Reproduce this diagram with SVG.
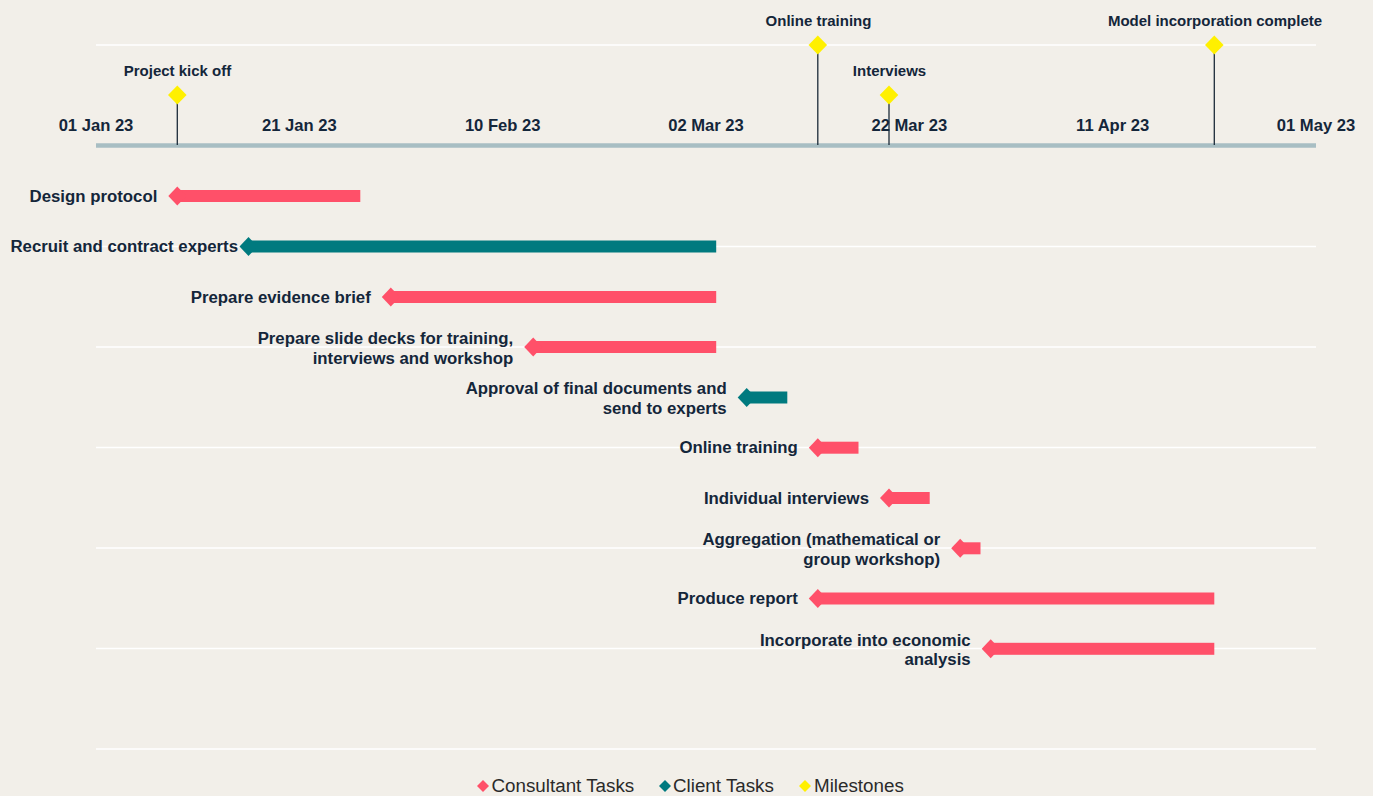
<svg xmlns="http://www.w3.org/2000/svg" width="1373" height="796" viewBox="0 0 1373 796">
<style>
.bg{fill:#F2EFE9}
.grid{stroke:#FFFFFF;stroke-width:1.5}
.axis{stroke:#A8BEC3;stroke-width:4.5}
.mline{stroke:#1C2B39;stroke-width:1.3}
.ms{fill:#FFF000}
.con{fill:#FF5069}
.cli{fill:#007A7F}
.date{font-family:"Liberation Sans",Arial,sans-serif;font-weight:bold;font-size:16.6px;fill:#14263A;text-anchor:middle}
.mlab{font-family:"Liberation Sans",Arial,sans-serif;font-weight:bold;font-size:15px;fill:#14263A;text-anchor:middle}
.task{font-family:"Liberation Sans",Arial,sans-serif;font-weight:bold;font-size:16.8px;fill:#14263A;text-anchor:end}
.leg{font-family:"Liberation Sans",Arial,sans-serif;font-size:18.8px;fill:#2A2A2A}
</style>
<rect class="bg" x="0" y="0" width="1373" height="796"/>
<g id="gridlines">
<line class="grid" x1="96" y1="45" x2="1316" y2="45"/>
<line class="grid" x1="96" y1="246.5" x2="1316" y2="246.5"/>
<line class="grid" x1="96" y1="347" x2="1316" y2="347"/>
<line class="grid" x1="96" y1="447.5" x2="1316" y2="447.5"/>
<line class="grid" x1="96" y1="548" x2="1316" y2="548"/>
<line class="grid" x1="96" y1="648.5" x2="1316" y2="648.5"/>
<line class="grid" x1="96" y1="749" x2="1316" y2="749"/>
</g>
<g id="axis">
<line class="axis" x1="96" y1="145.5" x2="1316" y2="145.5"/>
<text class="date" x="96" y="131">01 Jan 23</text>
<text class="date" x="299.3" y="131">21 Jan 23</text>
<text class="date" x="502.7" y="131">10 Feb 23</text>
<text class="date" x="706" y="131">02 Mar 23</text>
<text class="date" x="909.3" y="131">22 Mar 23</text>
<text class="date" x="1112.7" y="131">11 Apr 23</text>
<text class="date" x="1316" y="131">01 May 23</text>
</g>
<g id="connectors">
<line class="mline" x1="177.3" y1="95" x2="177.3" y2="145"/>
<line class="mline" x1="817.8" y1="45" x2="817.8" y2="145"/>
<line class="mline" x1="889" y1="95" x2="889" y2="145"/>
<line class="mline" x1="1214.3" y1="45" x2="1214.3" y2="145"/>
</g>
<g id="milestone-kickoff">
<polygon class="ms" points="168,95 177.3,85.5 186.6,95 177.3,104.5"/>
<text class="mlab" x="177.5" y="75.5">Project kick off</text>
</g>
<g id="milestone-online-training">
<polygon class="ms" points="808.5,45 817.8,35.5 827.1,45 817.8,54.5"/>
<text class="mlab" x="818.5" y="25.5">Online training</text>
</g>
<g id="milestone-interviews">
<polygon class="ms" points="879.7,95 889,85.5 898.3,95 889,104.5"/>
<text class="mlab" x="889.5" y="75.5">Interviews</text>
</g>
<g id="milestone-model">
<polygon class="ms" points="1205,45 1214.3,35.5 1223.6,45 1214.3,54.5"/>
<text class="mlab" x="1215" y="25.5">Model incorporation complete</text>
</g>
<g id="task-design-protocol">
<rect class="con" x="177.3" y="190" width="183" height="12"/>
<polygon class="con" points="168.3,196 177.3,186.5 186.3,196 177.3,205.5"/>
<text class="task" x="157.3" y="201.5">Design protocol</text>
</g>
<g id="task-recruit">
<rect class="cli" x="248.5" y="240.5" width="467.7" height="12"/>
<polygon class="cli" points="239.5,246.5 248.5,237 257.5,246.5 248.5,256"/>
<text class="task" x="238" y="252">Recruit and contract experts</text>
</g>
<g id="task-evidence-brief">
<rect class="con" x="390.8" y="291" width="325.4" height="12"/>
<polygon class="con" points="381.8,297 390.8,287.5 399.8,297 390.8,306.5"/>
<text class="task" x="370.8" y="302.5">Prepare evidence brief</text>
</g>
<g id="task-slide-decks">
<rect class="con" x="533.2" y="341" width="183" height="12"/>
<polygon class="con" points="524.2,347 533.2,337.5 542.2,347 533.2,356.5"/>
<text class="task" x="513.2" y="344">Prepare slide decks for training,</text>
<text class="task" x="513.2" y="363.5">interviews and workshop</text>
</g>
<g id="task-approval">
<rect class="cli" x="746.7" y="391.5" width="40.6" height="12"/>
<polygon class="cli" points="737.7,397.5 746.7,388 755.7,397.5 746.7,407"/>
<text class="task" x="726.7" y="394">Approval of final documents and</text>
<text class="task" x="726.7" y="413.5">send to experts</text>
</g>
<g id="task-online-training">
<rect class="con" x="817.8" y="441.7" width="40.7" height="12"/>
<polygon class="con" points="808.8,447.7 817.8,438.2 826.8,447.7 817.8,457.2"/>
<text class="task" x="797.8" y="453.2">Online training</text>
</g>
<g id="task-individual-interviews">
<rect class="con" x="889" y="492" width="40.7" height="12"/>
<polygon class="con" points="880,498 889,488.5 898,498 889,507.5"/>
<text class="task" x="869" y="503.5">Individual interviews</text>
</g>
<g id="task-aggregation">
<rect class="con" x="960.2" y="542.3" width="20.3" height="12"/>
<polygon class="con" points="951.2,548.3 960.2,538.8 969.2,548.3 960.2,557.8"/>
<text class="task" x="940.2" y="545">Aggregation (mathematical or</text>
<text class="task" x="940.2" y="564.5">group workshop)</text>
</g>
<g id="task-produce-report">
<rect class="con" x="817.8" y="592.5" width="396.5" height="12"/>
<polygon class="con" points="808.8,598.5 817.8,589 826.8,598.5 817.8,608"/>
<text class="task" x="797.8" y="604">Produce report</text>
</g>
<g id="task-incorporate">
<rect class="con" x="990.7" y="642.8" width="223.6" height="12"/>
<polygon class="con" points="981.7,648.8 990.7,639.3 999.7,648.8 990.7,658.3"/>
<text class="task" x="970.7" y="645.5">Incorporate into economic</text>
<text class="task" x="970.7" y="665">analysis</text>
</g>
<g id="legend">
<polygon class="con" points="477,786 483,780 489,786 483,792"/>
<text class="leg" x="491.5" y="791.5">Consultant Tasks</text>
<polygon class="cli" points="659,786 665,780 671,786 665,792"/>
<text class="leg" x="673" y="791.5">Client Tasks</text>
<polygon class="ms" points="799,786 805,780 811,786 805,792"/>
<text class="leg" x="814" y="791.5">Milestones</text>
</g>
</svg>
